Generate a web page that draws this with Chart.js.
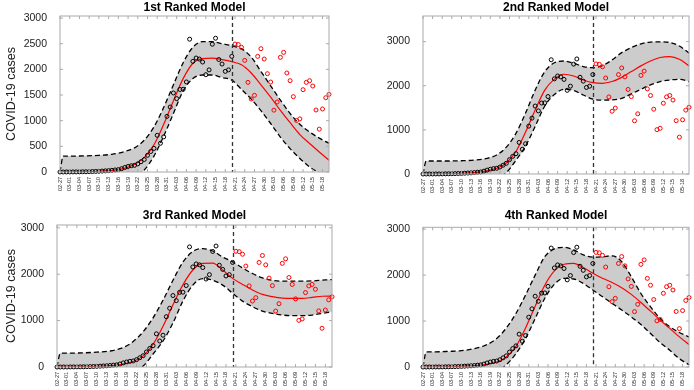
<!DOCTYPE html>
<html>
<head>
<meta charset="utf-8">
<script src="https://cdn.jsdelivr.net/npm/chart.js@4.4.0/dist/chart.umd.min.js"></script>
<style>
  html, body { margin: 0; padding: 0; background: #fff; }
  #wrap { position: relative; width: 694px; height: 390px; overflow: hidden; }
  #wrap canvas { position: absolute; left: 0; top: 0; }
</style>
</head>
<body>
<div id="wrap">
  <canvas id="p1" width="694" height="390"></canvas>
  <canvas id="p2" width="694" height="390"></canvas>
  <canvas id="p3" width="694" height="390"></canvas>
  <canvas id="p4" width="694" height="390"></canvas>
</div>
<script>
// x axis: day index from 02-27, one tick label every 3 days
const tickLabels = ['02-27', '03-01', '03-04', '03-07', '03-10', '03-13', '03-16', '03-19', '03-22', '03-25',
  '03-28', '03-31', '04-03', '04-06', '04-09', '04-12', '04-15', '04-18', '04-21', '04-24',
  '04-27', '04-30', '05-03', '05-06', '05-09', '05-12', '05-15', '05-18'];
const lastDay = 83;
const splitDay = 53;      // dashed line: end of fitting window
const firstTestDay = 54;

const yTicksFine = [0, 500, 1000, 1500, 2000, 2500, 3000];
const yTicksCoarse = [0, 1000, 2000, 3000];

// daily cases used for fitting (black circles), days 0..53
const observed = [0, 0, 1, 1, 2, 2, 3, 4, 5, 7,
  9, 11, 14, 18, 22, 26, 32, 40, 46, 64,
  88, 108, 122, 130, 158, 200, 243, 325, 400, 460,
  715, 560, 685, 1084, 1266, 1540, 1430, 1608, 1612, 1755,
  2588, 2156, 2221, 2201, 2143, 1896, 1990, 2490, 2607, 2192,
  2104, 1961, 1990, 2253];

// daily cases after the window (red circles), days 54..83
const testCases = [2494, 2485, 2430, 2175, 1747, 1422, 1494, 2253, 2403, 2201,
  1916, 1753, 1205, 1364, 2234, 2331, 1929, 1779, 1468, 1005,
  1035, 1604, 1747, 1779, 1675, 1208, 835, 1228, 1448, 1513];

// model curves sampled at these days
const curveDays = [0, 1, 4, 8, 12, 16, 20, 23, 26, 29, 32, 35, 38, 41, 44, 47, 50, 53, 56, 59, 62, 65, 68, 71, 74, 77, 80, 83];

const mid1 = [0, 2, 4, 8, 15, 30, 75, 150, 280, 530, 930, 1390, 1820, 2120, 2210, 2220, 2190, 2150, 2090, 1930, 1700, 1460, 1200, 960, 730, 555, 390, 230];
const upper1 = [0, 310, 310, 315, 325, 345, 400, 470, 620, 880, 1260, 1700, 2130, 2430, 2540, 2540, 2500, 2460, 2400, 2240, 1960, 1680, 1400, 1140, 930, 780, 660, 560];
const lower1 = [-300, -300, -300, -290, -280, -260, -200, -100, 40, 310, 700, 1140, 1580, 1820, 1890, 1890, 1840, 1790, 1610, 1420, 1195, 945, 680, 455, 265, 100, -15, -120];

const mid2 = [0, 2, 4, 8, 15, 30, 70, 130, 250, 510, 950, 1450, 1900, 2150, 2260, 2220, 2130, 2070, 2055, 2095, 2190, 2320, 2450, 2560, 2640, 2660, 2600, 2450];
const upper2 = [0, 295, 295, 295, 300, 315, 355, 430, 610, 920, 1380, 1900, 2320, 2520, 2560, 2510, 2435, 2410, 2455, 2585, 2750, 2865, 2950, 2990, 2995, 2980, 2900, 2740];
const lower2 = [-300, -300, -300, -290, -280, -260, -200, -110, 30, 310, 630, 1080, 1540, 1800, 1920, 1890, 1790, 1695, 1675, 1680, 1715, 1815, 1920, 2020, 2095, 2130, 2145, 2095];

const mid3 = [0, 2, 4, 8, 15, 30, 65, 120, 240, 490, 880, 1340, 1770, 2090, 2235, 2240, 2090, 1910, 1780, 1660, 1565, 1515, 1485, 1480, 1480, 1500, 1525, 1530];
const upper3 = [0, 300, 300, 305, 320, 345, 420, 550, 760, 1060, 1440, 1870, 2260, 2490, 2550, 2500, 2370, 2265, 2135, 2015, 1920, 1870, 1850, 1850, 1850, 1855, 1870, 1885];
const lower3 = [-300, -300, -300, -290, -280, -260, -200, -100, 20, 280, 560, 950, 1420, 1765, 1905, 1870, 1765, 1590, 1420, 1300, 1205, 1155, 1120, 1105, 1105, 1120, 1155, 1190];

const mid4 = [0, 2, 4, 8, 15, 30, 60, 110, 220, 450, 850, 1320, 1780, 2090, 2235, 2255, 2165, 2040, 1930, 1840, 1725, 1580, 1405, 1215, 1020, 840, 655, 490];
const upper4 = [0, 328, 330, 340, 355, 400, 488, 620, 850, 1165, 1565, 2000, 2400, 2570, 2605, 2550, 2440, 2390, 2400, 2420, 2290, 1965, 1600, 1310, 1055, 875, 750, 655];
const lower4 = [-300, -300, -300, -290, -280, -260, -200, -100, 50, 290, 620, 1055, 1495, 1800, 1930, 1915, 1820, 1675, 1530, 1385, 1240, 1090, 925, 730, 530, 365, 180, 50];

const FONT = '"Liberation Sans", Arial, Helvetica, sans-serif';
Chart.defaults.font.family = FONT;

function toXY(days, vals) {
  return vals.map((v, i) => ({ x: days[i], y: v }));
}
const obsPts = toXY(observed.map((v, i) => i), observed);
const testPts = toXY(testCases.map((v, i) => firstTestDay + i), testCases);

// box, inward ticks, rotated date labels and the split line, like a matlab axes
const framePlugin = {
  id: 'frame',
  afterDatasetsDraw(chart) {
    const { ctx, chartArea: a, scales: { x, y } } = chart;
    ctx.save();
    const sx = Math.round(x.getPixelForValue(splitDay)) + 0.5;
    ctx.strokeStyle = '#333';
    ctx.lineWidth = 1.3;
    ctx.setLineDash([4, 3]);
    ctx.beginPath();
    ctx.moveTo(sx, a.top);
    ctx.lineTo(sx, a.bottom);
    ctx.stroke();
    ctx.setLineDash([]);

    ctx.strokeStyle = '#aaa';
    ctx.lineWidth = 1;
    ctx.strokeRect(a.left, a.top, a.right - a.left, a.bottom - a.top);
    ctx.beginPath();
    x.ticks.forEach(t => {
      const px = x.getPixelForValue(t.value);
      ctx.moveTo(px, a.bottom); ctx.lineTo(px, a.bottom - 3);
      ctx.moveTo(px, a.top); ctx.lineTo(px, a.top + 3);
    });
    y.ticks.forEach(t => {
      const py = y.getPixelForValue(t.value);
      ctx.moveTo(a.left, py); ctx.lineTo(a.left + 3, py);
      ctx.moveTo(a.right, py); ctx.lineTo(a.right - 3, py);
    });
    ctx.stroke();

    ctx.fillStyle = '#222';
    ctx.font = '5.5px ' + FONT;
    ctx.textAlign = 'right';
    ctx.textBaseline = 'middle';
    x.ticks.forEach((t, i) => {
      ctx.save();
      ctx.translate(x.getPixelForValue(t.value), a.bottom + 5);
      ctx.rotate(-Math.PI / 2);
      ctx.fillText(tickLabels[i], 0, 0);
      ctx.restore();
    });
    ctx.restore();
  }
};

function makePanel(id, title, mid, upper, lower, box) {
  const curve = {
    pointRadius: 0,
    cubicInterpolationMode: 'monotone',
    fill: false
  };
  const dots = {
    showLine: false,
    pointRadius: 2,
    pointBorderWidth: 1,
    pointBackgroundColor: 'transparent',
    clip: false
  };
  new Chart(document.getElementById(id), {
    type: 'line',
    data: {
      datasets: [
        { ...dots, data: testPts, borderColor: 'red', pointBorderColor: 'red' },
        { ...dots, data: obsPts, borderColor: '#000', pointBorderColor: '#000' },
        { ...curve, data: toXY(curveDays, mid), borderColor: 'red', borderWidth: 1.2 },
        { ...curve, data: toXY(curveDays, upper), borderColor: '#000', borderWidth: 1.3, borderDash: [5, 3],
          fill: '+1', backgroundColor: '#cccccc' },
        { ...curve, data: toXY(curveDays, lower), borderColor: '#000', borderWidth: 1.3, borderDash: [5, 3] }
      ]
    },
    options: {
      responsive: false,
      animation: false,
      devicePixelRatio: 1,
      layout: { padding: { left: 0, top: box.padTop, right: 694 - box.right, bottom: 390 - box.bottom - 20 } },
      plugins: {
        legend: { display: false },
        tooltip: { enabled: false },
        filler: { drawTime: 'beforeDatasetsDraw' },
        title: {
          display: true,
          text: title,
          fullSize: false,
          color: '#000',
          font: { size: 12, weight: 'bold' },
          padding: { top: 0, bottom: box.titleGap }
        }
      },
      scales: {
        x: {
          type: 'linear',
          min: 0,
          max: lastDay,
          grid: { display: false },
          border: { display: false },
          ticks: { display: false },
          afterBuildTicks: s => { s.ticks = tickLabels.map((l, i) => ({ value: i * 3 })); },
          afterFit: s => { s.height = 20; s.paddingLeft = 0; s.paddingRight = 0; }
        },
        y: {
          min: 0,
          max: box.yMax,
          grid: { display: false },
          border: { display: false },
          ticks: {
            padding: 5,
            color: '#222',
            font: { size: 10.5 },
            callback: v => String(v)
          },
          afterBuildTicks: s => { s.ticks = box.yTicks.map(v => ({ value: v })); },
          title: {
            display: box.yTitle,
            text: 'COVID-19 cases',
            color: '#222',
            font: { size: 12.5 },
            padding: { top: 4.5, bottom: 0 }
          },
          afterFit: s => { s.width = box.left; s.paddingTop = 0; s.paddingBottom = 0; }
        }
      }
    },
    plugins: [framePlugin]
  });
}

makePanel('p1', '1st Ranked Model', mid1, upper1, lower1,
  { left: 60, right: 329, bottom: 172, padTop: 0, titleGap: 1.6, yMax: 3040, yTicks: yTicksFine, yTitle: true });
makePanel('p2', '2nd Ranked Model', mid2, upper2, lower2,
  { left: 423, right: 689, bottom: 174, padTop: 0, titleGap: 1.6, yMax: 3580, yTicks: yTicksCoarse, yTitle: false });
makePanel('p3', '3rd Ranked Model', mid3, upper3, lower3,
  { left: 57, right: 332, bottom: 367, padTop: 208.5, titleGap: 2.1, yMax: 3060, yTicks: yTicksCoarse, yTitle: true });
makePanel('p4', '4th Ranked Model', mid4, upper4, lower4,
  { left: 423, right: 689, bottom: 367, padTop: 208.5, titleGap: 4.4, yMax: 3040, yTicks: yTicksCoarse, yTitle: false });
</script>
</body>
</html>
